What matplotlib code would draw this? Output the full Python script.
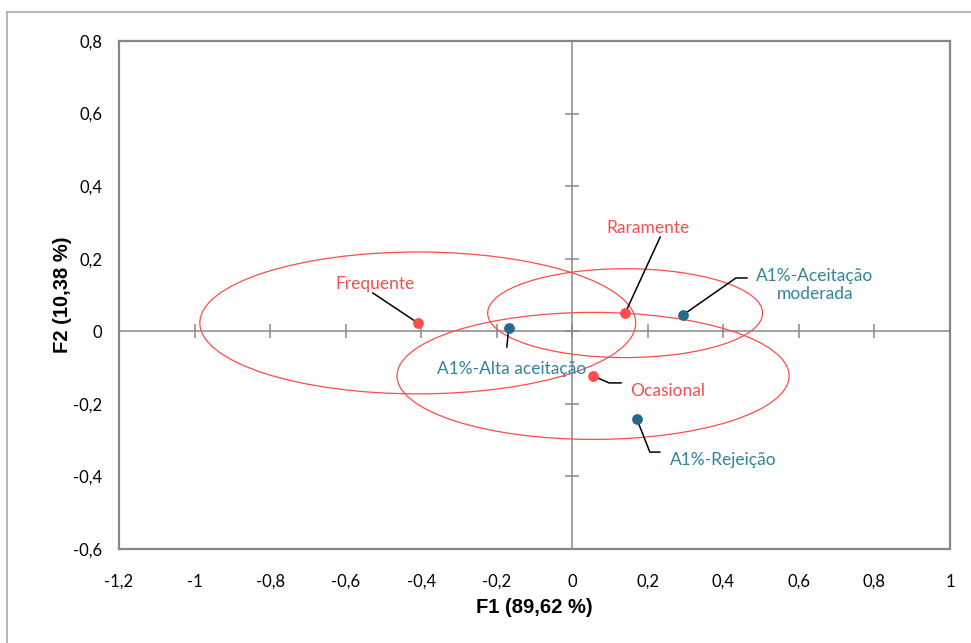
import matplotlib
matplotlib.use('Agg')
import matplotlib.pyplot as plt
from matplotlib.patches import Ellipse
from matplotlib.lines import Line2D
import numpy as np

# Frequency of consumption (rows) - red points with confidence ellipses
freq_names = ['Frequente', 'Raramente', 'Ocasional']
freq_x = [-0.409, 0.140, 0.055]
freq_y = [0.023, 0.050, -0.123]
ell_width = [1.154, 0.728, 1.038]
ell_height = [0.391, 0.245, 0.350]

# Acceptance of formulation A1% (columns) - blue points
acc_names = ['A1%-Alta aceitação', 'A1%-Aceitação\nmoderada', 'A1%-Rejeição']
acc_x = [-0.168, 0.293, 0.171]
acc_y = [0.009, 0.045, -0.242]

x_ticks = [-1.2, -1.0, -0.8, -0.6, -0.4, -0.2, 0.0, 0.2, 0.4, 0.6, 0.8, 1.0]
y_ticks = [-0.6, -0.4, -0.2, 0.0, 0.2, 0.4, 0.6, 0.8]

RED = '#FF4B4B'
RED_TXT = '#F0504F'
BLUE = '#246A8C'
BLUE_TXT = '#31849B'
GREY = '#878787'

# label placement: pixel offsets from the point (x right, y down)
freq_label_off = [(-43, -39), (23, -85), (75, 15)]
freq_leader = [[(-45, -30)], [(35, -76)], [(16, 7), (28, 7)]]
acc_label_off = [(3, 41), (132, -30), (86, 41)]
acc_leader = [[(-2, 19)], [(53, -37), (64, -37)], [(13, 33), (23, 33)]]

plt.rcParams['font.family'] = ['Lato', 'DejaVu Sans']

fig = plt.figure(figsize=(9.71, 6.43), dpi=100)
ax = fig.add_axes([119 / 971, 1 - 549 / 643, 831 / 971, 508 / 643])
ax.set_xlim(-1.2, 1.0)
ax.set_ylim(-0.6, 0.8)

# outer chart frame
fig.add_artist(Line2D([7 / 971, 1.0], [1 - 12 / 643] * 2, transform=fig.transFigure,
                      color='#ABABAB', lw=1.2))
fig.add_artist(Line2D([7 / 971] * 2, [0.0, 1 - 12 / 643], transform=fig.transFigure,
                      color='#ABABAB', lw=1.2))

for sp in ax.spines.values():
    sp.set_color(GREY)
    sp.set_linewidth(1.6)

ax.axhline(0, color=GREY, lw=1.1, zorder=1)
ax.axvline(0, color=GREY, lw=1.1, zorder=1)
ax.plot(x_ticks[1:], [0] * (len(x_ticks) - 1), ls='none', marker='|',
        markersize=10, mew=1.1, color=GREY, zorder=1)
ax.plot([0] * len(y_ticks[1:]), y_ticks[1:], ls='none', marker='_',
        markersize=10, mew=1.1, color=GREY, zorder=1)

ax.set_xticks(x_ticks)
ax.set_yticks(y_ticks)
ax.set_xticklabels([f'{v:g}'.replace('.', ',') for v in x_ticks])
ax.set_yticklabels([f'{v:g}'.replace('.', ',') for v in y_ticks])
ax.tick_params(axis='x', length=0, pad=18, labelsize=12)
ax.tick_params(axis='y', length=0, pad=12, labelsize=12)

ax.set_xlabel('F1 (89,62 %)', fontsize=14.5, fontweight='bold',
              family=['Liberation Sans', 'DejaVu Sans'], labelpad=6)
ax.set_ylabel('F2 (10,38 %)', fontsize=14.5, fontweight='bold',
              family=['Liberation Sans', 'DejaVu Sans'], labelpad=1)

for cx, cy, w, h in zip(freq_x, freq_y, ell_width, ell_height):
    ax.add_patch(Ellipse((cx, cy), w, h, fill=False, edgecolor=RED, lw=0.9, zorder=2))

fig.canvas.draw()
to_disp = ax.transData
to_data = ax.transData.inverted()


def px_offset(x, y, dx, dy):
    # pixel offset (y down) from a data point, back to data coordinates
    px, py = to_disp.transform((x, y))
    return to_data.transform((px + dx, py - dy))


def draw_group(xs, ys, names, label_off, leaders, pcolor, tcolor):
    ax.scatter(xs, ys, s=60, color=pcolor, zorder=4, linewidths=0)
    for x, y, name, (lx, ly), path in zip(xs, ys, names, label_off, leaders):
        pts = [(x, y)] + [tuple(px_offset(x, y, dx, dy)) for dx, dy in path]
        ax.plot([p[0] for p in pts], [p[1] for p in pts], color='black', lw=1.1, zorder=3)
        tx, ty = px_offset(x, y, lx, ly)
        ax.text(tx, ty, name, color=tcolor, fontsize=12.5, ha='center', va='center',
                linespacing=1.15, zorder=5)


draw_group(freq_x, freq_y, freq_names, freq_label_off, freq_leader, RED, RED_TXT)
draw_group(acc_x, acc_y, acc_names, acc_label_off, acc_leader, BLUE, BLUE_TXT)

fig.savefig('out.png', dpi=100)
